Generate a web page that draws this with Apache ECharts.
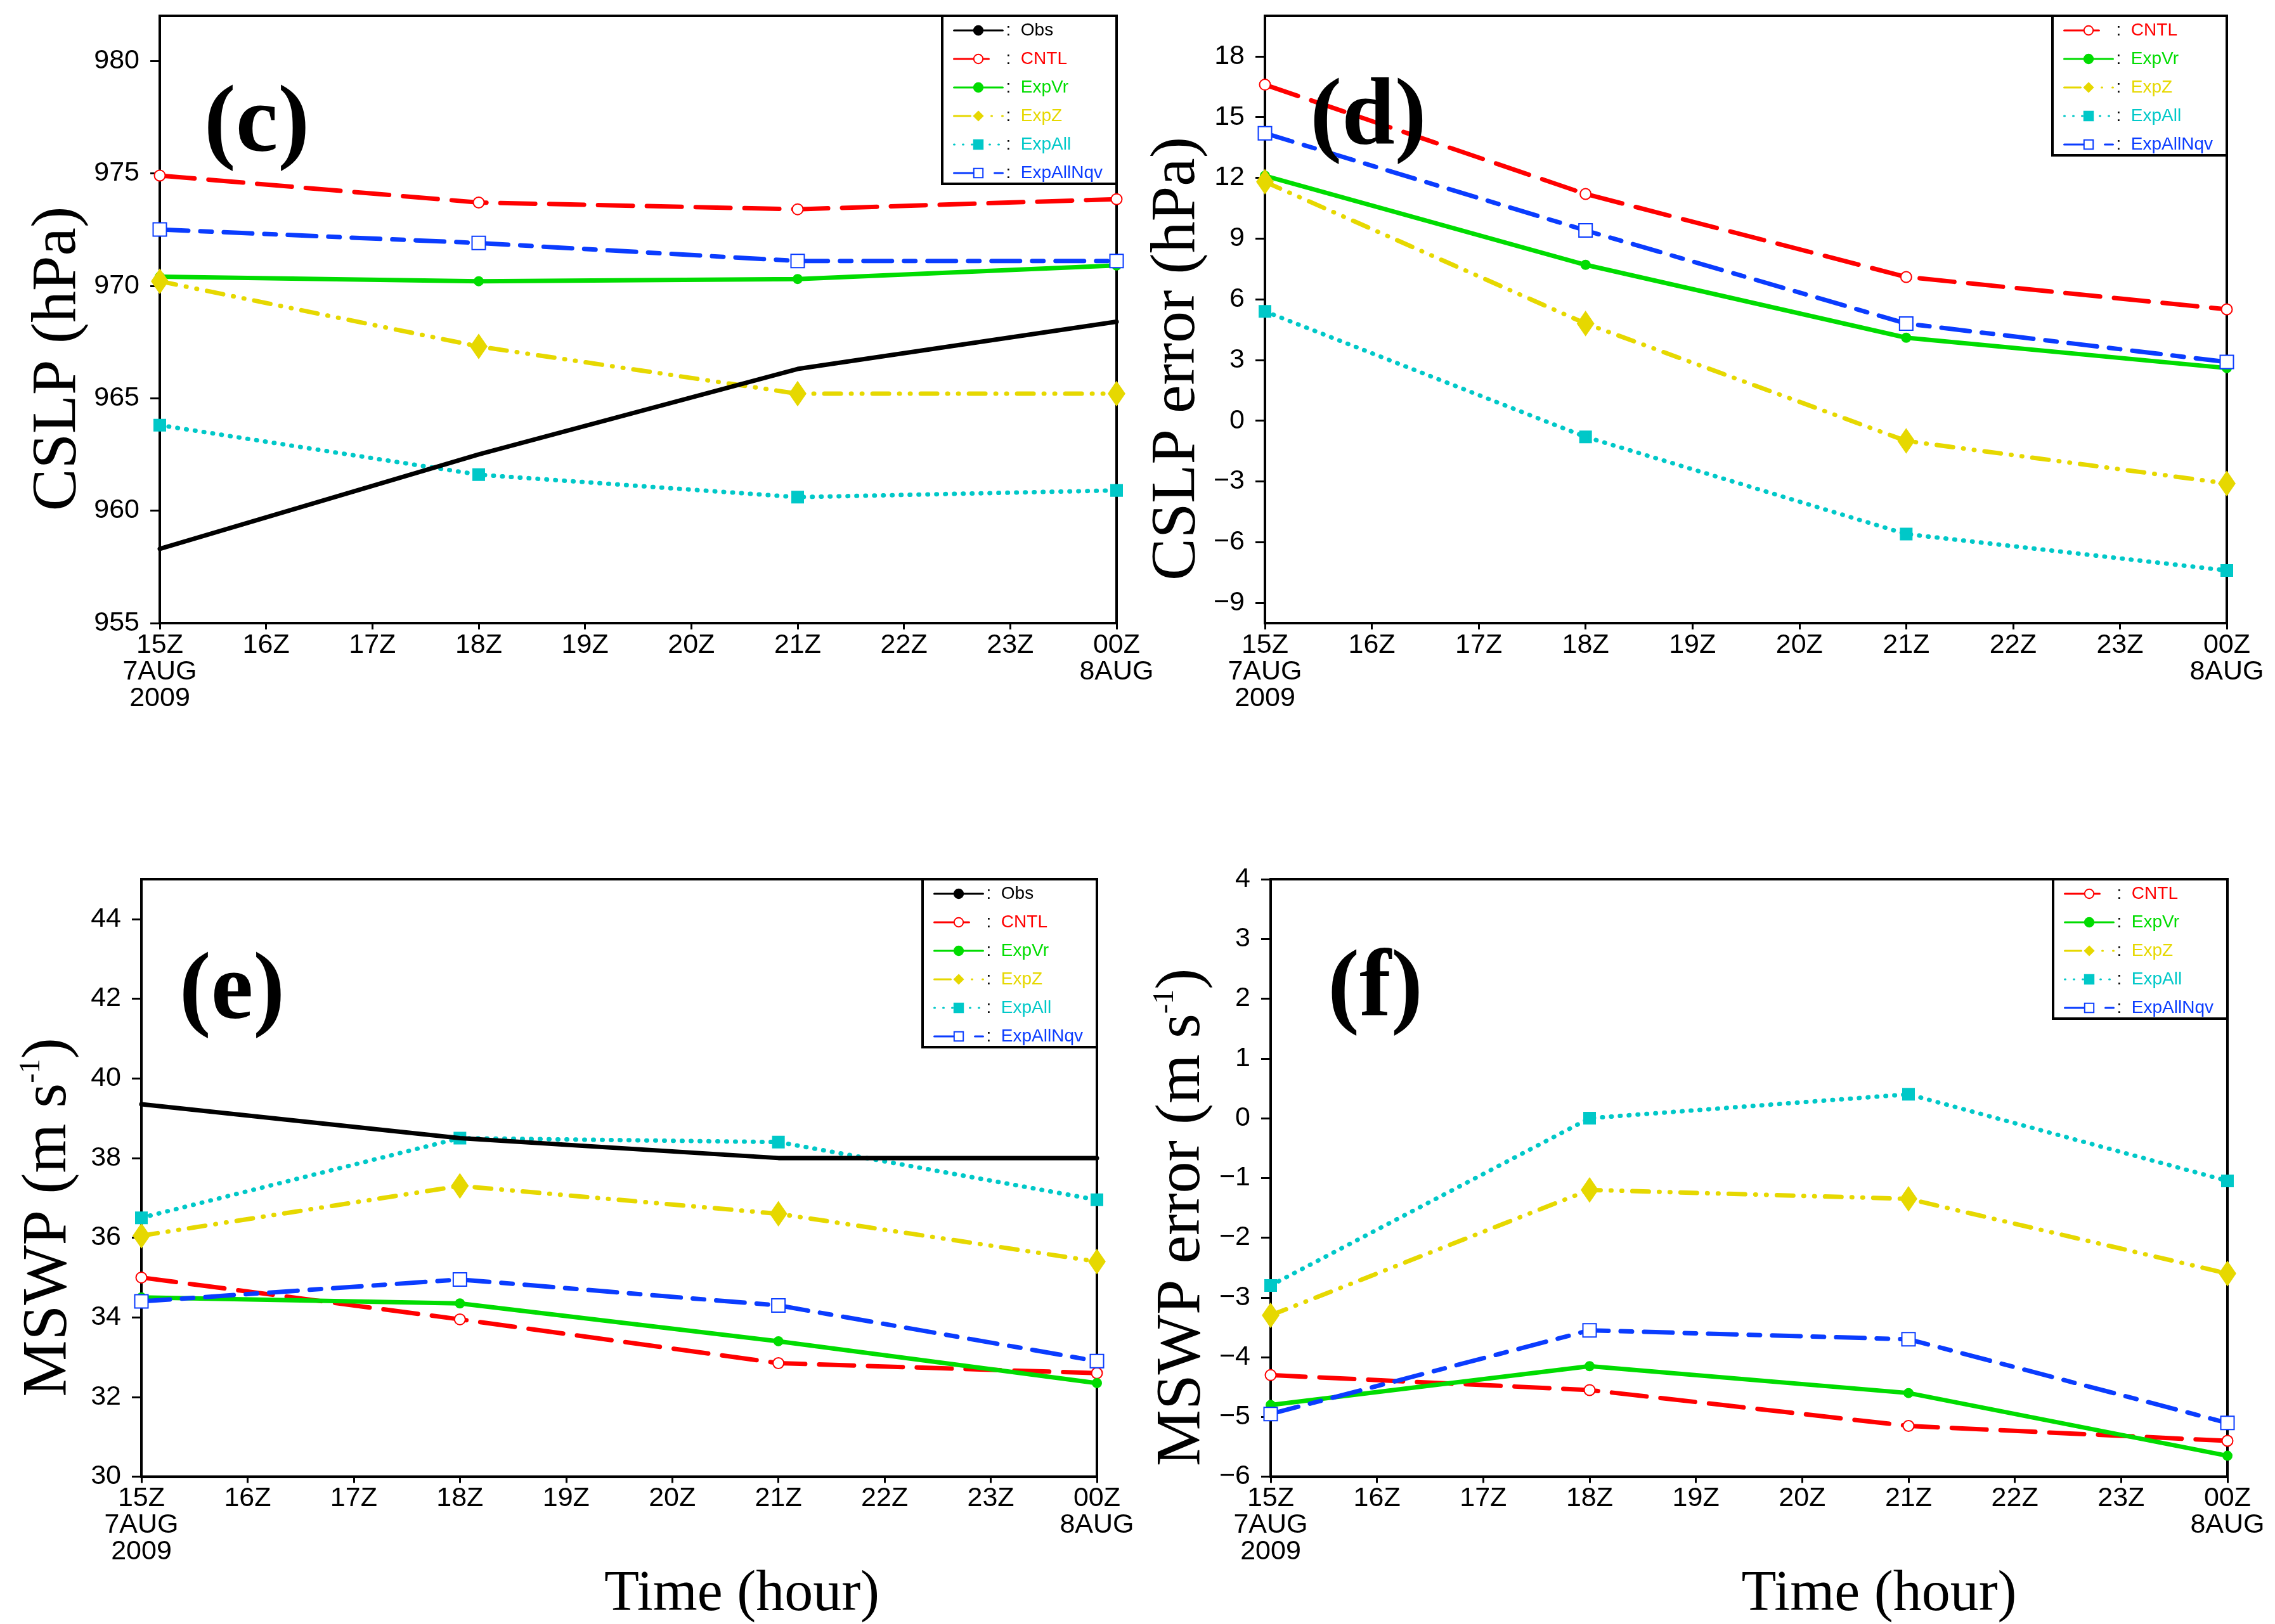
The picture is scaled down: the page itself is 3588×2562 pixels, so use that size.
<!DOCTYPE html>
<html>
<head>
<meta charset="utf-8">
<title>CSLP / MSWP</title>
<script src="https://cdn.jsdelivr.net/npm/echarts@6.0.0/dist/echarts.min.js"></script>
<style>
    html, body { margin: 0; padding: 0; background: #fff; }
    #main { width: 3588px; height: 2562px; }
</style>
</head>
<body>
<div id="main"></div>
<script>
// hours on the x axis and the hours that have data
var hours = ['15Z', '16Z', '17Z', '18Z', '19Z', '20Z', '21Z', '22Z', '23Z', '00Z'];
var hourLabels = ['15Z\n7AUG\n2009', '16Z', '17Z', '18Z', '19Z', '20Z', '21Z', '22Z', '23Z', '00Z\n8AUG'];
var sampleHours = ['15Z', '18Z', '21Z', '00Z'];

// (c) CSLP (hPa)
var cslpObs = [958.3, 962.5, 966.3, 968.4];
var cslpCNTL = [974.9, 973.7, 973.4, 973.85];
var cslpExpVr = [970.4, 970.2, 970.3, 970.9];
var cslpExpZ = [970.2, 967.3, 965.2, 965.2];
var cslpExpAll = [963.8, 961.6, 960.6, 960.9];
var cslpExpAllNqv = [972.5, 971.9, 971.1, 971.1];
var cslpTicks = [955, 960, 965, 970, 975, 980];

// (d) CSLP error (hPa)
var cslpErrCNTL = [16.6, 11.2, 7.1, 5.5];
var cslpErrExpVr = [12.1, 7.7, 4.1, 2.6];
var cslpErrExpZ = [11.8, 4.8, -1.0, -3.1];
var cslpErrExpAll = [5.4, -0.8, -5.6, -7.4];
var cslpErrExpAllNqv = [14.2, 9.4, 4.8, 2.9];
var cslpErrTicks = [-9, -6, -3, 0, 3, 6, 9, 12, 15, 18];

// (e) MSWP (m s-1)
var mswpObs = [39.35, 38.5, 38.0, 38.0];
var mswpCNTL = [35.0, 33.95, 32.85, 32.6];
var mswpExpVr = [34.5, 34.35, 33.4, 32.35];
var mswpExpZ = [36.05, 37.3, 36.6, 35.4];
var mswpExpAll = [36.5, 38.5, 38.4, 36.95];
var mswpExpAllNqv = [34.4, 34.95, 34.3, 32.9];
var mswpTicks = [30, 32, 34, 36, 38, 40, 42, 44];

// (f) MSWP error (m s-1)
var mswpErrCNTL = [-4.3, -4.55, -5.15, -5.4];
var mswpErrExpVr = [-4.8, -4.15, -4.6, -5.65];
var mswpErrExpZ = [-3.3, -1.2, -1.35, -2.6];
var mswpErrExpAll = [-2.8, 0.0, 0.4, -1.05];
var mswpErrExpAllNqv = [-4.95, -3.55, -3.7, -5.1];
var mswpErrTicks = [-6, -5, -4, -3, -2, -1, 0, 1, 2, 3, 4];

var sansFont = '"Liberation Sans", Arial, sans-serif';
var serifFont = '"Liberation Serif", "Times New Roman", serif';

// line look of each run
var runStyle = {
    'Obs': { color: '#000000', type: 'solid', symbol: 'none', size: 0 },
    'CNTL': { color: '#ff0000', type: [55, 22], symbol: 'emptyCircle', size: 17 },
    'ExpVr': { color: '#00dc00', type: 'solid', symbol: 'circle', size: 11 },
    'ExpZ': { color: '#e6d800', type: [26, 16, 1, 16, 1, 16], symbol: 'diamond', size: [22, 32] },
    'ExpAll': { color: '#00c8c8', type: [1, 13], symbol: 'rect', size: 15 },
    'ExpAllNqv': { color: '#0a3cff', type: [45, 19, 18, 19], symbol: 'emptyRect', size: 21 }
};

// plot boxes in pixels
var boxes = [
    { left: 252, top: 25, right: 1761, bottom: 983 },
    { left: 1995, top: 25, right: 3512, bottom: 983 },
    { left: 223, top: 1387, right: 1730, bottom: 2341 },
    { left: 2004, top: 1387, right: 3513, bottom: 2341 }
];

var panels = [
    {
        tag: '(c)', tagX: 405, tagY: 199,
        yName: 'CSLP (hPa)', yNameGap: 110, min: 955, max: 982, ticks: cslpTicks,
        runs: { 'Obs': cslpObs, 'CNTL': cslpCNTL, 'ExpVr': cslpExpVr, 'ExpZ': cslpExpZ, 'ExpAll': cslpExpAll, 'ExpAllNqv': cslpExpAllNqv }
    },
    {
        tag: '(d)', tagX: 2158, tagY: 188,
        yName: 'CSLP error (hPa)', yNameGap: 88, min: -10, max: 20, ticks: cslpErrTicks,
        runs: { 'CNTL': cslpErrCNTL, 'ExpVr': cslpErrExpVr, 'ExpZ': cslpErrExpZ, 'ExpAll': cslpErrExpAll, 'ExpAllNqv': cslpErrExpAllNqv }
    },
    {
        tag: '(e)', tagX: 366, tagY: 1567,
        yName: 'MSWP (m s{sup|-1})', yNameGap: 96, min: 30, max: 45, ticks: mswpTicks,
        runs: { 'Obs': mswpObs, 'CNTL': mswpCNTL, 'ExpVr': mswpExpVr, 'ExpZ': mswpExpZ, 'ExpAll': mswpExpAll, 'ExpAllNqv': mswpExpAllNqv },
        xName: 'Time (hour)', xNameShift: 387
    },
    {
        tag: '(f)', tagX: 2169, tagY: 1563,
        yName: 'MSWP error (m s{sup|-1})', yNameGap: 89, min: -6, max: 4, ticks: mswpErrTicks,
        runs: { 'CNTL': mswpErrCNTL, 'ExpVr': mswpErrExpVr, 'ExpZ': mswpErrExpZ, 'ExpAll': mswpErrExpAll, 'ExpAllNqv': mswpErrExpAllNqv },
        xName: 'Time (hour)', xNameShift: 410
    }
];

var W = 3588, H = 2562;
var option = {
    backgroundColor: '#fff',
    animation: false,
    grid: [], xAxis: [], yAxis: [], series: [], legend: [], graphic: []
};

panels.forEach(function (p, i) {
    var b = boxes[i];
    option.grid.push({
        left: b.left, top: b.top, width: b.right - b.left, height: b.bottom - b.top,
        show: true, borderColor: '#000', borderWidth: 4, backgroundColor: 'transparent'
    });

    var xAxis = {
        gridIndex: i, type: 'category', data: hours, boundaryGap: false,
        axisLine: { onZero: false, lineStyle: { color: '#000', width: 4 } },
        axisTick: { show: true, length: 10, lineStyle: { color: '#000', width: 3 }, interval: 0 },
        axisLabel: {
            interval: 0, margin: 14, color: '#000', fontFamily: sansFont, fontSize: 43, lineHeight: 42,
            formatter: function (v, idx) { return hourLabels[idx]; }
        },
        splitLine: { show: false }
    };
    if (p.xName) {
        xAxis.name = p.xName;
        xAxis.nameLocation = 'middle';
        xAxis.nameGap = 106;
        xAxis.nameTextStyle = { fontFamily: serifFont, fontSize: 90, color: '#000', padding: [0, 0, 0, p.xNameShift] };
    }
    option.xAxis.push(xAxis);

    option.yAxis.push({
        gridIndex: i, type: 'value', min: p.min, max: p.max,
        name: p.yName, nameLocation: 'middle', nameGap: p.yNameGap,
        nameTextStyle: {
            fontFamily: serifFont, fontSize: 100, color: '#000', padding: [0, 124, 0, 0],
            rich: { sup: { fontFamily: serifFont, fontSize: 46, color: '#000', verticalAlign: 'top', padding: [0, 0, 34, 0] } }
        },
        axisLine: { show: true, onZero: false, lineStyle: { color: '#000', width: 4 } },
        axisTick: { show: true, length: 15, customValues: p.ticks, lineStyle: { color: '#000', width: 3 } },
        axisLabel: {
            customValues: p.ticks, margin: 32, color: '#000', fontFamily: sansFont, fontSize: 43,
            formatter: function (v) { return String(v).replace('-', '\u2212'); }
        },
        splitLine: { show: false }
    });

    var names = Object.keys(p.runs);
    names.forEach(function (name) {
        var s = runStyle[name];
        var values = p.runs[name];
        option.series.push({
            name: name, type: 'line', xAxisIndex: i, yAxisIndex: i,
            data: sampleHours.map(function (h, k) { return [h, values[k]]; }),
            symbol: s.symbol, symbolSize: s.size, showSymbol: s.symbol !== 'none',
            lineStyle: { color: s.color, width: 7, type: s.type, cap: 'round', join: 'round' },
            itemStyle: { color: s.color, borderColor: s.color, borderWidth: 5 },
            z: name === 'Obs' ? 3 : 2
        });
    });

    option.legend.push({
        orient: 'vertical', selectedMode: false,
        right: W - b.right, top: b.top,
        backgroundColor: '#fff', borderColor: '#000', borderWidth: 4,
        padding: [6, 22, 0, 17], itemGap: 11, itemWidth: 77, itemHeight: 18,
        lineStyle: { width: 3 },
        data: names.map(function (name) {
            return { name: name, textStyle: { color: runStyle[name].color } };
        }),
        formatter: function (name) { return '{k|:}  ' + name; },
        textStyle: {
            fontFamily: sansFont, fontSize: 28, lineHeight: 34,
            rich: { k: { color: '#000', fontFamily: sansFont, fontSize: 28, lineHeight: 34 } }
        }
    });

    option.graphic.push({
        type: 'text', x: p.tagX, y: p.tagY, z: 10,
        style: { text: p.tag, font: 'bold 150px ' + serifFont, fill: '#000', align: 'center', verticalAlign: 'middle' }
    });
});

var chart = echarts.init(document.getElementById('main'), null, { renderer: 'canvas' });
chart.setOption(option);
window.addEventListener('resize', function () { chart.resize(); });
</script>
</body>
</html>
